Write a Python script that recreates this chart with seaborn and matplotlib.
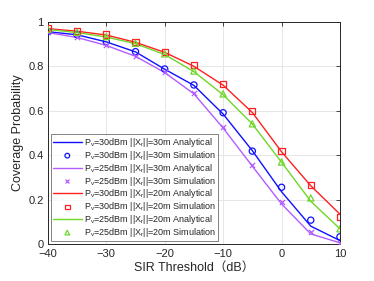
import matplotlib
matplotlib.use("Agg")
import matplotlib.pyplot as plt
import seaborn as sns
import pandas as pd
import numpy as np

sns.set_style("whitegrid")
plt.rcParams['font.family'] = ['Liberation Sans', 'Noto Sans CJK SC', 'DejaVu Sans']
plt.rcParams['mathtext.fontset'] = 'custom'
plt.rcParams['mathtext.rm'] = 'Liberation Sans'
plt.rcParams['mathtext.it'] = 'Liberation Sans'

sir = [-40, -35, -30, -25, -20, -15, -10, -5, 0, 5, 10]

a30_30 = [0.956, 0.942, 0.910, 0.865, 0.787, 0.714, 0.585, 0.420, 0.235, 0.080, 0.015]
s30_30 = [0.956, 0.943, 0.911, 0.866, 0.788, 0.716, 0.591, 0.418, 0.255, 0.107, 0.032]
a25_30 = [0.952, 0.930, 0.894, 0.845, 0.772, 0.676, 0.522, 0.350, 0.180, 0.045, 0.005]
s25_30 = [0.953, 0.931, 0.896, 0.847, 0.775, 0.679, 0.527, 0.354, 0.191, 0.053, 0.006]
a30_20 = [0.970, 0.958, 0.941, 0.908, 0.863, 0.800, 0.715, 0.592, 0.415, 0.262, 0.134]
s30_20 = [0.971, 0.959, 0.943, 0.910, 0.866, 0.805, 0.721, 0.597, 0.417, 0.264, 0.120]
a25_20 = [0.966, 0.952, 0.932, 0.902, 0.853, 0.776, 0.672, 0.540, 0.368, 0.192, 0.068]
s25_20 = [0.967, 0.953, 0.934, 0.904, 0.856, 0.779, 0.676, 0.541, 0.369, 0.207, 0.068]

labels = [
    r"P$_\mathregular{v}$=30dBm ||X$_\mathregular{r}$||=30m Analytical",
    r"P$_\mathregular{v}$=30dBm ||X$_\mathregular{r}$||=30m Simulation",
    r"P$_\mathregular{v}$=25dBm ||X$_\mathregular{r}$||=30m Analytical",
    r"P$_\mathregular{v}$=25dBm ||X$_\mathregular{r}$||=30m Simulation",
    r"P$_\mathregular{v}$=30dBm ||X$_\mathregular{r}$||=20m Analytical",
    r"P$_\mathregular{v}$=30dBm ||X$_\mathregular{r}$||=20m Simulation",
    r"P$_\mathregular{v}$=25dBm ||X$_\mathregular{r}$||=20m Analytical",
    r"P$_\mathregular{v}$=25dBm ||X$_\mathregular{r}$||=20m Simulation",
]

blue = "#1010FF"
purple = "#B35CFF"
red = "#FF2020"
green = "#6FD62A"

fig = plt.figure(figsize=(3.74, 2.81), dpi=100)
ax = fig.add_axes([0.128, 0.132, 0.781, 0.790])

series = [
    (a30_30, s30_30, blue, 'o'),
    (a25_30, s25_30, purple, 'x'),
    (a30_20, s30_20, red, 's'),
    (a25_20, s25_20, green, '^'),
]
for i, (a, s, c, m) in enumerate(series):
    sns.lineplot(x=sir, y=a, ax=ax, color=c, lw=1.0, label=labels[2 * i])
    if m == 'x':
        sns.scatterplot(x=sir, y=s, ax=ax, color=c, marker='x', s=14, linewidth=0.9,
                        label=labels[2 * i + 1], zorder=3)
    else:
        sns.scatterplot(x=sir, y=s, ax=ax, marker=m, s=20, facecolor='none',
                        edgecolor=c, linewidth=0.9, label=labels[2 * i + 1], zorder=3)

ax.set_xlim(-40, 10)
ax.set_ylim(0, 1)
ax.set_xticks([-40, -30, -20, -10, 0, 10])
ax.set_yticks([0, 0.2, 0.4, 0.6, 0.8, 1])
ax.set_yticklabels(["0", "0.2", "0.4", "0.6", "0.8", "1"])
ax.grid(True, color="#E6E6E6", lw=0.7)
for sp in ax.spines.values():
    sp.set_color("#262626")
    sp.set_linewidth(0.7)
ax.tick_params(direction='in', length=3, width=0.6, labelsize=8, colors="#262626",
               top=True, right=True)
ax.tick_params(axis='x', pad=4)
ax.tick_params(axis='y', pad=3)
ax.set_xlabel("SIR Threshold（dB）", fontsize=9, color="#262626", labelpad=2)
ax.set_ylabel("Coverage Probability", fontsize=9, color="#262626", labelpad=3)

leg = ax.legend(loc='lower left', fontsize=6.5, frameon=True, fancybox=False,
                edgecolor="#262626", borderaxespad=0.3, handlelength=3.2,
                labelspacing=-0.02, borderpad=0.25, handletextpad=0.2,
                markerscale=0.75)
leg.get_frame().set_linewidth(0.5)

fig.savefig("out.png", dpi=100)
